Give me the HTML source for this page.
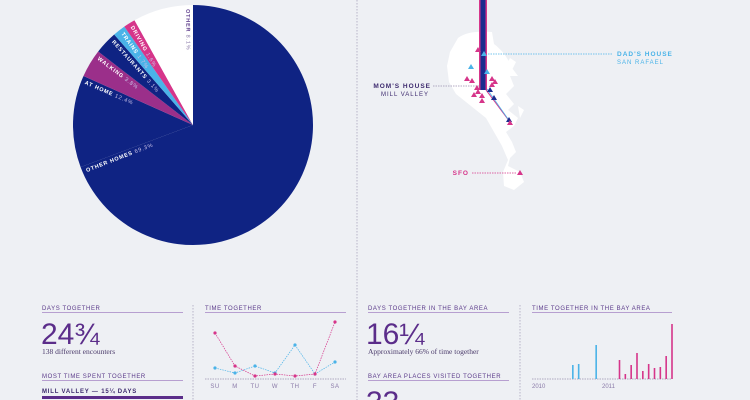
<!DOCTYPE html>
<html><head><meta charset="utf-8"><style>
body{margin:0;width:750px;height:400px;background:#eef0f4;overflow:hidden;font-family:"Liberation Sans",sans-serif}
svg{position:absolute;left:0;top:0}
.cap{font-size:6px;letter-spacing:0.6px;fill:#5b3a8a}
</style></head><body>
<svg id="s" width="750" height="400">
<g id="pie"></g>
<g id="map">
<path fill="#fff" d="M458,38 C466,32 478,31 492,32 L494,44 C502,50 508,58 512,68 L518,76 L510,76 L514,86 L506,94 L514,104 L508,110 L518,118 L514,126 L506,132 L512,142 L516,152 L510,158 L508,166 L520,172 L524,182 L514,190 L504,186 L503,172 L508,160 L502,146 L494,132 L486,118 L476,110 L466,102 L456,94 L449,82 L447,66 L450,52 Z"/>
<path fill="#fff" d="M510,58 L516,62 L512,70 L506,66 Z M518,106 L524,110 L520,118 Z"/>
<line x1="488" y1="54" x2="612" y2="54" stroke="#4ab3e8" stroke-width=".7" stroke-dasharray="1.5,1"/>
<line x1="433" y1="86" x2="482" y2="86" stroke="#9a8fb0" stroke-width=".7" stroke-dasharray="1.5,1"/>
<line x1="472" y1="173" x2="516" y2="173" stroke="#d6358a" stroke-width=".7" stroke-dasharray="1.5,1"/>
<line x1="486" y1="90" x2="510" y2="122" stroke="#d6358a" stroke-width="1"/>
<line x1="487" y1="89" x2="508" y2="119" stroke="#4ab3e8" stroke-width=".8"/>
<rect x="479" y="0" width="8" height="90" fill="#d6358a"/>
<rect x="480.5" y="0" width="5" height="90" fill="#1b2c8e"/>
<g id="tri"></g>
<text x="617" y="56" font-size="6.5" font-weight="bold" fill="#4ab3e8" letter-spacing="1">DAD'S HOUSE</text>
<text x="617" y="64" font-size="6" fill="#4ab3e8" letter-spacing="1">SAN RAFAEL</text>
<text x="431" y="88" text-anchor="end" font-size="6.5" font-weight="bold" fill="#3d2a6e" letter-spacing="1">MOM'S HOUSE</text>
<text x="429" y="96" text-anchor="end" font-size="6" fill="#3d2a6e" letter-spacing="1">MILL VALLEY</text>
<text x="469" y="175" text-anchor="end" font-size="6.5" font-weight="bold" fill="#d6358a" letter-spacing="1">SFO</text>
</g>
<line x1="357" y1="0" x2="357" y2="400" stroke="#b8b4c8" stroke-dasharray="1.5,1.5"/>
<line x1="193" y1="305" x2="193" y2="400" stroke="#b8b4c8" stroke-dasharray="1.5,1.5"/>
<line x1="520" y1="305" x2="520" y2="400" stroke="#b8b4c8" stroke-dasharray="1.5,1.5"/>

<g>
<text class="cap" x="42" y="310">DAYS TOGETHER</text>
<line x1="42" y1="312.5" x2="183" y2="312.5" stroke="#b79fd0"/>
<text x="41" y="344" font-size="30" fill="#5b2d8a">24¾</text>
<text x="42" y="354" font-size="7.5" fill="#4a3a6a" font-family="Liberation Serif,serif">138 different encounters</text>
<text class="cap" x="42" y="378">MOST TIME SPENT TOGETHER</text>
<line x1="42" y1="380.5" x2="183" y2="380.5" stroke="#b79fd0"/>
<text x="42" y="393" font-size="6" font-weight="bold" fill="#3d2a6e" letter-spacing="0.8">MILL VALLEY — 15¼ DAYS</text>
<rect x="42" y="396" width="141" height="3" fill="#5b2d8a"/>
</g>
<g id="lc">
<text class="cap" x="205" y="310">TIME TOGETHER</text>
<line x1="205" y1="312.5" x2="346" y2="312.5" stroke="#b79fd0"/>
<line x1="205" y1="379" x2="346" y2="379" stroke="#9a8fb0" stroke-width=".7" stroke-dasharray="1.5,1"/>
</g>
<g>
<text class="cap" x="368" y="310">DAYS TOGETHER IN THE BAY AREA</text>
<line x1="368" y1="312.5" x2="509" y2="312.5" stroke="#b79fd0"/>
<text x="366" y="344" font-size="30" fill="#5b2d8a">16¼</text>
<text x="368" y="354" font-size="7.5" fill="#4a3a6a" font-family="Liberation Serif,serif">Approximately 66% of time together</text>
<text class="cap" x="368" y="378">BAY AREA PLACES VISITED TOGETHER</text>
<line x1="368" y1="380.5" x2="509" y2="380.5" stroke="#b79fd0"/>
<text x="366" y="412" font-size="30" fill="#5b2d8a">33</text>
</g>
<g id="bc">
<text class="cap" x="532" y="310">TIME TOGETHER IN THE BAY AREA</text>
<line x1="532" y1="312.5" x2="672" y2="312.5" stroke="#b79fd0"/>
<line x1="532" y1="379" x2="672" y2="379" stroke="#9a8fb0" stroke-width=".7" stroke-dasharray="1.5,1"/>
</g>
</svg>
<script>
const NS="http://www.w3.org/2000/svg";
function mk(p,t,a){const e=document.createElementNS(NS,t);for(const k in a)e.setAttribute(k,a[k]);p.appendChild(e);return e;}
// pie data
const pieLabels=["OTHER HOMES","AT HOME","WALKING","RESTAURANTS","TRAINS","DRIVING","OTHER"];
const pieValues=[69.3,12.4,3.8,3.1,1.7,1.6,8.1];
const pieColors=["#0f2383","#0f2383","#9b2f8a","#0f2383","#4ab3e8","#d6358a","#ffffff"];
// weekday line chart
const days=["SU","M","TU","W","TH","F","SA"];
const pinkSeries=[46,13,3,5,3,5,57];
const blueSeries=[11,6,13,6,34,5,17];
// monthly bars
const barMonths=[7,8,11,15,16,17,18,19,20,21,22,23,24];
const barValues=[14,15,34,19,5,14,26,8,15,11,12,23,55];
const barColors=["#4ab3e8","#4ab3e8","#4ab3e8","#d6358a","#d6358a","#d6358a","#d6358a","#d6358a","#d6358a","#d6358a","#d6358a","#d6358a","#d6358a"];
const yearLabels=["2010","2011"];

const pie=document.getElementById('pie');
const cx=193,cy=125,r=120;let acc=0;const tot=pieValues.reduce((a,b)=>a+b,0);
pieValues.forEach((v,i)=>{
 const a0=acc/tot*2*Math.PI, a1=(acc+v)/tot*2*Math.PI;acc+=v;
 const p=(a)=>[cx+r*Math.sin(a),cy-r*Math.cos(a)];
 const [x0,y0]=p(a0),[x1,y1]=p(a1);
 const s=mk(pie,'path',{d:`M${cx},${cy}L${x0},${y0}A${r},${r} 0 ${a1-a0>Math.PI?1:0} 1 ${x1},${y1}Z`,fill:pieColors[i]});
 
 
 const am=a1-0.012;const deg=am*180/Math.PI-90;
 const t=mk(pie,'text',{transform:`translate(${cx},${cy}) rotate(${deg+180}) translate(${-r+4},0)`,'font-size':'5.5','letter-spacing':'0.8',dy:'5.5',fill:i==6?'#5b3a8a':'#fff','font-weight':'bold'});
 t.textContent=pieLabels[i]+' ';
 const sp=mk(t,'tspan',{'font-weight':'normal',fill:i==6?'#8a7aa8':'#c8c0e8'});sp.textContent=v+'%';
 
 
});
const lc=document.getElementById('lc');
const xD=i=>215+i*20, yV=v=>379-v*1.0;
days.forEach((d,i)=>{const t=mk(lc,'text',{x:xD(i),y:388,'font-size':'6','text-anchor':'middle',fill:'#8a7aa8','letter-spacing':'0.5'});t.textContent=d;
 
 });
[[blueSeries,'#4ab3e8'],[pinkSeries,'#d6358a']].forEach(([s,c])=>{
 const l=mk(lc,'polyline',{points:s.map((v,i)=>xD(i)+','+yV(v)).join(' '),fill:'none',stroke:c,'stroke-width':'.7','stroke-dasharray':'1.5,1'});
 
 
 s.forEach((v,i)=>{const p=mk(lc,'circle',{cx:xD(i),cy:yV(v),r:1.6,fill:c});
  
  });
});
const bc=document.getElementById('bc');
const xM=m=>532+m*70/12;
yearLabels.forEach((y,i)=>{const t=mk(bc,'text',{x:xM(i*12),y:388,'font-size':'6',fill:'#8a7aa8'});t.textContent=y;
 
 });
barMonths.forEach((m,i)=>{const b=mk(bc,'rect',{x:xM(m)-0.8,y:379-barValues[i],width:1.6,height:barValues[i],fill:barColors[i]});
 
 });
const tri=document.getElementById('tri');
const tris=[[478,50,'#d6358a'],[484,54,'#4ab3e8'],[471,67,'#4ab3e8'],[487,72,'#4ab3e8'],[467,79,'#d6358a'],[472,81,'#d6358a'],[492,79,'#d6358a'],[495,82,'#d6358a'],[492,85,'#d6358a'],[477,88,'#d6358a'],[490,90,'#1b2c8e'],[478,92,'#d6358a'],[474,95,'#d6358a'],[482,96,'#d6358a'],[482,101,'#d6358a'],[494,98,'#1b2c8e'],[509,120,'#1b2c8e'],[510,123,'#d6358a'],[520,173,'#d6358a']];
tris.forEach(([x,y,c])=>{const t=mk(tri,'polygon',{points:`${x-3},${y+2} ${x},${y-3} ${x+3},${y+2}`,fill:c});
 
 });
</script>
</body></html>
